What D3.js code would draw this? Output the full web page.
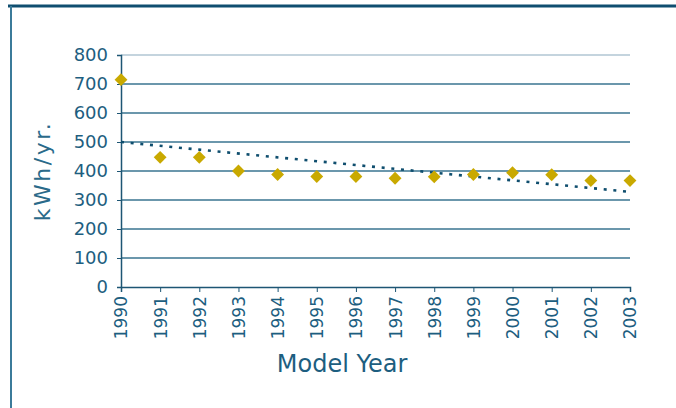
<!DOCTYPE html>
<html><head><meta charset="utf-8">
<script src="https://cdn.jsdelivr.net/npm/d3@7/dist/d3.min.js"></script>
<style>body{margin:0;background:#fff}svg{display:block}</style>
</head><body>
<script>
const years = ["1990","1991","1992","1993","1994","1995","1996","1997","1998","1999","2000","2001","2002","2003"];
const kwh = [715,447,447,400,388,381,381,375,380,388,394,387,367,367];
const trendYears = ["1990","2003"];
const trendValues = [500,328];
const yTicks = [0,100,200,300,400,500,600,700,800];

const W=676,H=408;
const svg=d3.select("body").append("svg").attr("width",W).attr("height",H);
const font="'DejaVu Sans', Verdana, sans-serif";
const txt="#1d5e80";

// frame
svg.append("line").attr("x1",8).attr("x2",676).attr("y1",6).attr("y2",6).attr("stroke","#0f4e70").attr("stroke-width",3);
svg.append("line").attr("x1",11).attr("x2",11).attr("y1",6).attr("y2",408).attr("stroke","#3b7b9a").attr("stroke-width",2);

const x=d3.scalePoint().domain(years).range([121,630]);
const y=d3.scaleLinear().domain([0,800]).range([287,55]);

// gridlines
svg.append("g").selectAll("line").data(yTicks.filter(d=>d>0)).join("line")
  .attr("x1",121).attr("x2",630).attr("y1",d=>y(d)).attr("y2",d=>y(d))
  .attr("stroke",d=>d===800?"#c4d4de":"#3a7591").attr("stroke-width",d=>d===800?2:1.5);

// y axis
const ya=svg.append("g").attr("transform","translate(121,0)")
  .call(d3.axisLeft(y).tickValues(yTicks).tickSize(4).tickPadding(9));
ya.select(".domain").attr("stroke","#1d5674").attr("stroke-width",1.5);
ya.selectAll(".tick line").attr("stroke","#1d5674");
ya.selectAll("text").attr("font-family",font).attr("font-size",18).attr("fill",txt);

// x axis
const xa=svg.append("g").attr("transform","translate(0,287)")
  .call(d3.axisBottom(x).tickSize(5).tickPadding(0));
xa.select(".domain").attr("stroke","#1d5674").attr("stroke-width",1.5);
xa.selectAll(".tick line").attr("stroke","#1d5674");
xa.selectAll("text").attr("font-family",font).attr("font-size",17).attr("fill",txt)
  .attr("transform","rotate(-90)").attr("text-anchor","end").attr("dy","0.35em").attr("x",-9).attr("y",0);

// trend line
svg.append("path").datum(trendYears.map((t,i)=>[t,trendValues[i]]))
  .attr("d",d3.line().x(d=>x(d[0])).y(d=>y(d[1])))
  .attr("fill","none").attr("stroke","#0f4e6e").attr("stroke-width",2.6).attr("stroke-dasharray","3,6.7");

// points
svg.append("g").selectAll("path").data(years.map((t,i)=>[t,kwh[i]])).join("path")
  .attr("transform",d=>`translate(${x(d[0])},${y(d[1])})`)
  .attr("d",d3.symbol().type(d3.symbolDiamond2).size(105))
  .attr("fill","#c9a900");

// titles
svg.append("text").attr("x",342).attr("y",372).attr("text-anchor","middle")
  .attr("font-family",font).attr("font-size",24).attr("fill",txt).text("Model Year");
svg.append("text").attr("transform","translate(50,171) rotate(-90)").attr("text-anchor","middle")
  .attr("font-family",font).attr("font-size",22).attr("letter-spacing",2.5).attr("fill","#2a6a8a").text("kWh/yr.");
</script>
</body></html>
